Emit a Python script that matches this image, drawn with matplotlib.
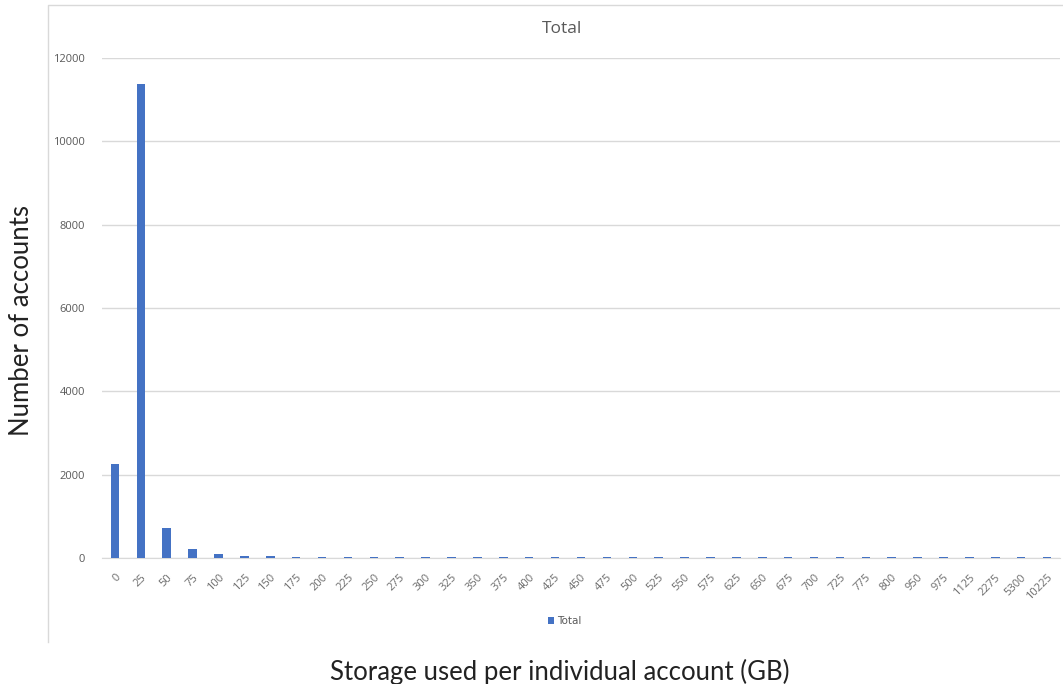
"""Storage per account histogram (Excel-style column chart)."""

import matplotlib.pyplot as plt
import numpy as np
from matplotlib.lines import Line2D

# Data.
storage_bins = ['0', '25', '50', '75', '100', '125', '150', '175', '200', '225',
                '250', '275', '300', '325', '350', '375', '400', '425', '450',
                '475', '500', '525', '550', '575', '625', '650', '675', '700',
                '725', '775', '800', '950', '975', '1125', '2275', '5300',
                '10225']
accounts = [2250, 11380, 710, 215, 105, 60, 55, 30, 30, 30,
            30, 30, 30, 30, 30, 30, 30, 30, 30,
            30, 30, 30, 30, 30, 30, 30, 30, 30,
            30, 30, 30, 30, 30, 30, 30, 30,
            30]
y_ticks = [0, 2000, 4000, 6000, 8000, 10000, 12000]

W, H = 1063, 684
fig = plt.figure(figsize=(W / 100, H / 100), dpi=100, facecolor='white')

# Chart frame: only left and top edges are visible in the screenshot.
fig.lines.append(Line2D([48 / W, 48 / W, 1.0], [1 - 642 / H, 1 - 5 / H, 1 - 5 / H],
                        transform=fig.transFigure, color='#d9d9d9',
                        linewidth=1))

ax = fig.add_axes([102 / W, 126 / H, (1060 - 102) / W, 500 / H])
x = np.arange(len(storage_bins))
ax.bar(x, accounts, width=0.33, color='#4472c4', label='Total', zorder=3)

ax.set_xlim(-0.5, len(storage_bins) - 0.5)
ax.set_ylim(0, 12000)
ax.set_yticks(y_ticks)
ax.set_yticklabels([str(t) for t in y_ticks], color='#595959', fontsize=8,
                   family='Open Sans')
ax.set_xticks(x)
ax.set_xticklabels(storage_bins, rotation=45, ha='right',
                   rotation_mode='anchor', color='#6b6b6b', fontsize=8,
                   family='Open Sans')
ax.tick_params(length=0, pad=10)
ax.tick_params(axis='y', pad=12)
ax.grid(axis='y', color='#d9d9d9', linewidth=1, zorder=0)
for side in ['top', 'right', 'left']:
    ax.spines[side].set_visible(False)
ax.spines['bottom'].set_color('#d9d9d9')

fig.text(562 / W, 1 - 29 / H, 'Total', ha='center', va='center',
         fontsize=12.5, color='#595959', family='Open Sans')

leg = ax.legend(loc='center', bbox_to_anchor=(565 / W, 1 - 621 / H),
                bbox_transform=fig.transFigure, frameon=False, fontsize=7.5,
                handlelength=0.6, handleheight=0.6, handletextpad=0.3)
for t in leg.get_texts():
    t.set_color('#595959')

fig.text(22 / W, 1 - 320 / H, 'Number of accounts', rotation=90,
         ha='center', va='center', fontsize=18.5, color='#222222',
         family='Lato')
fig.text(560 / W, 1 - 672 / H, 'Storage used per individual account (GB)',
         ha='center', va='center', fontsize=18.5, color='#222222',
         family='Lato')

fig.savefig('out.png', dpi=100, facecolor='white')
